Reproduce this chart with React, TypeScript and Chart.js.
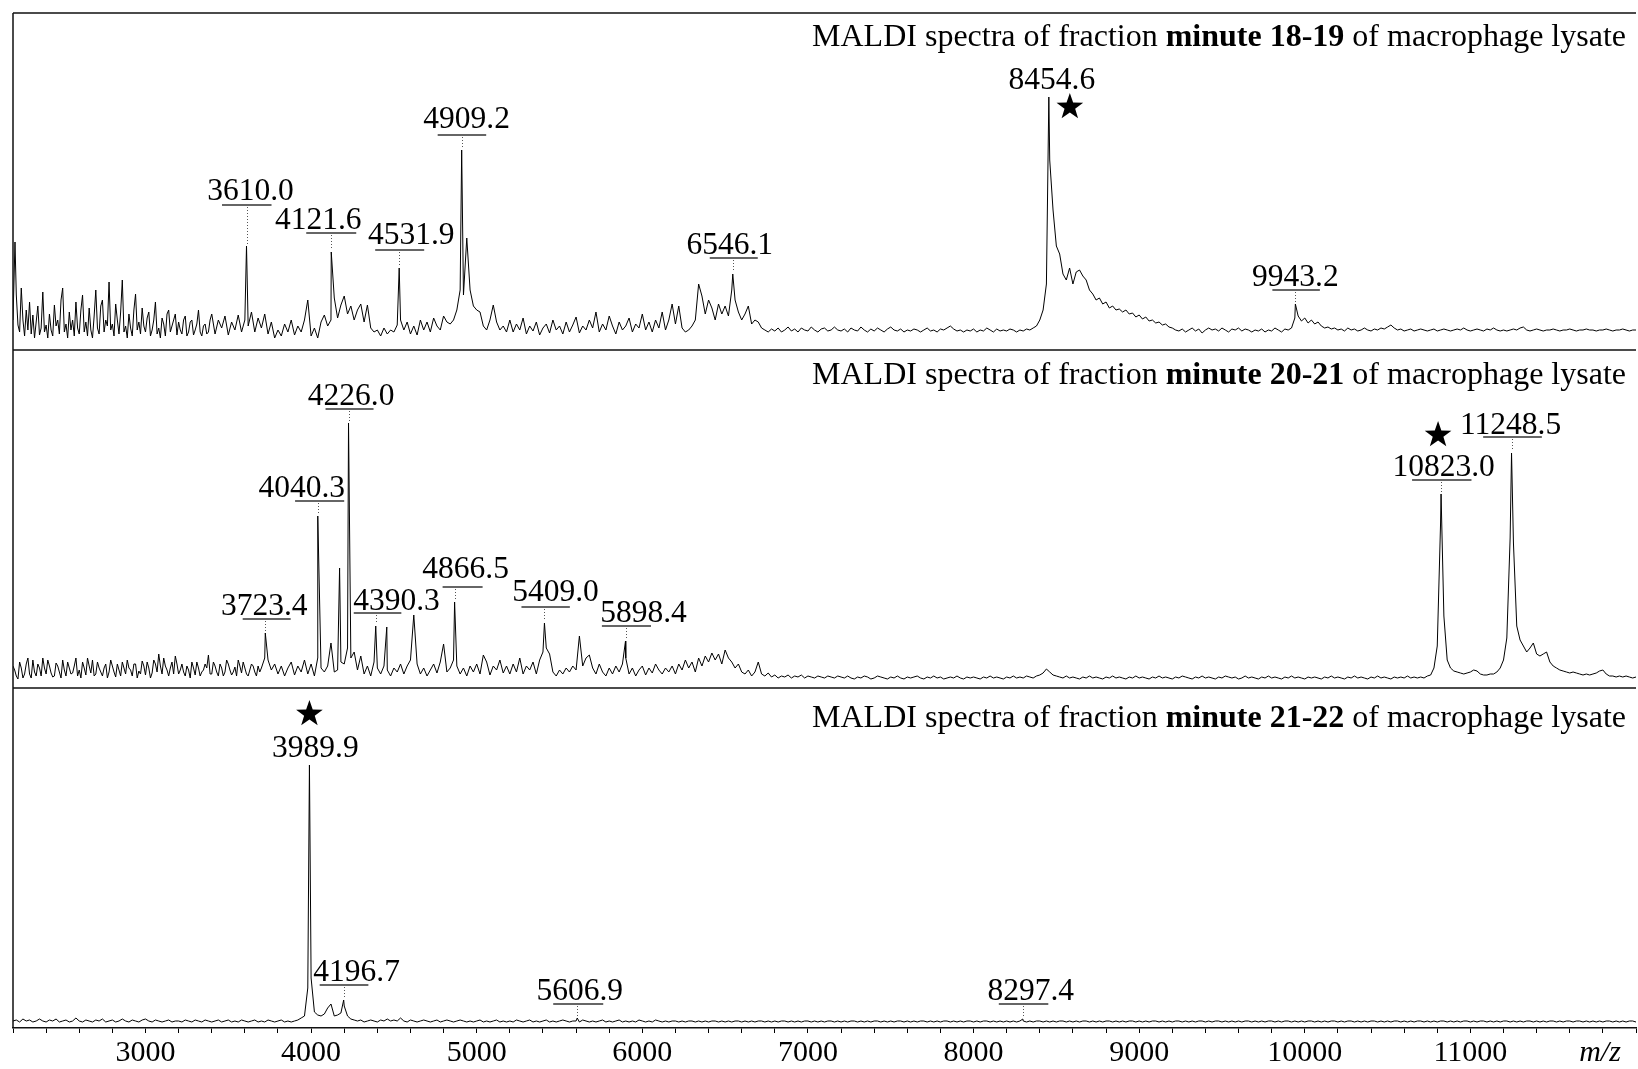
import { useEffect, useRef } from 'react';
import { Chart, registerables } from 'chart.js';

Chart.register(...registerables);

const WIDTH = 1638;
const HEIGHT = 1069;

// ---- m/z axis ----
const MZ_MIN = 2200;
const MZ_MAX = 12000;
const MZ_STEP = 20; // spacing of the sampled intensity arrays
const TICK_STEP = 200;
const TICK_LABEL_EVERY = 1000;

// ---- panel titles (regular, bold, regular) ----
const TITLES: string[][] = [
  ['MALDI spectra of fraction ', 'minute 18-19', ' of macrophage lysate'],
  ['MALDI spectra of fraction ', 'minute 20-21', ' of macrophage lysate'],
  ['MALDI spectra of fraction ', 'minute 21-22', ' of macrophage lysate'],
];

// ---- intensities (a.u.), one value per 20 m/z from 2200 to 12000; each row = 200 m/z ----
const P1_INTENSITY = [
  30, 55, 18, 30, 40, 48, 35, 28, 15, 58, // 2200
  25, 36, 14, 24, 16, 62, 26, 38, 30, 48, // 2400
  16, 55, 28, 42, 12, 60, 16, 50, 30, 68, // 2600
  26, 46, 16, 70, 24, 36, 14, 56, 28, 42, // 2800
  18, 38, 20, 48, 22, 32, 14, 40, 24, 36, // 3000
  28, 16, 34, 18, 30, 20, 40, 14, 26, 18, // 3200
  36, 16, 30, 22, 34, 15, 28, 20, 35, 18, // 3400
  30, 24, 38, 18, 32, 22, 36, 16, 28, 12, // 3600
  20, 14, 26, 18, 30, 15, 24, 18, 30, 50, // 3800
  14, 22, 12, 28, 35, 24, 30, 52, 32, 45, // 4000
  54, 36, 44, 30, 40, 46, 28, 45, 22, 18, // 4200
  20, 14, 22, 16, 20, 18, 25, 30, 20, 28, // 4400
  16, 24, 15, 30, 20, 28, 18, 32, 24, 20, // 4600
  34, 28, 26, 30, 40, 60, 55, 112, 60, 44, // 4800
  40, 38, 24, 20, 30, 45, 28, 20, 24, 18, // 5000
  30, 18, 26, 20, 32, 16, 24, 19, 28, 15, // 5200
  22, 26, 17, 30, 20, 24, 16, 28, 18, 25, // 5400
  33, 17, 24, 20, 30, 22, 38, 18, 26, 20, // 5600
  34, 24, 16, 28, 20, 24, 32, 18, 26, 22, // 5800
  36, 20, 28, 18, 30, 22, 38, 20, 30, 46, // 6000
  26, 44, 22, 18, 20, 24, 30, 66, 54, 36, // 6200
  50, 42, 30, 46, 36, 44, 34, 60, 50, 38, // 6400
  30, 36, 44, 26, 30, 28, 22, 20, 18, 21, // 6600
  19, 22, 18, 20, 23, 19, 21, 18, 22, 20, // 6800
  19, 23, 20, 18, 21, 22, 19, 20, 23, 20, // 7000
  19, 21, 18, 22, 20, 19, 23, 20, 18, 21, // 7200
  19, 22, 20, 18, 21, 23, 20, 19, 21, 18, // 7400
  20, 19, 21, 20, 18, 20, 22, 19, 20, 18, // 7600
  21, 20, 22, 24, 21, 19, 20, 18, 20, 19, // 7800
  21, 18, 20, 19, 22, 20, 18, 21, 19, 20, // 8000
  19, 21, 20, 18, 20, 19, 21, 20, 22, 24, // 8200
  30, 40, 66, 190, 140, 104, 96, 76, 70, 82, // 8400
  66, 78, 80, 74, 70, 60, 56, 50, 52, 46, // 8600
  48, 42, 44, 40, 41, 38, 40, 36, 37, 33, // 8800
  35, 31, 33, 29, 30, 27, 28, 25, 26, 23, // 9000
  22, 20, 19, 21, 18, 20, 22, 19, 21, 17, // 9200
  20, 22, 20, 21, 19, 22, 20, 18, 21, 20, // 9400
  22, 19, 21, 20, 18, 20, 19, 21, 18, 20, // 9600
  19, 22, 20, 18, 21, 20, 22, 32, 34, 29, // 9800
  32, 27, 30, 26, 28, 24, 22, 23, 21, 22, // 10000
  20, 21, 19, 22, 20, 21, 19, 20, 22, 20, // 10200
  19, 21, 20, 22, 21, 23, 25, 22, 20, 21, // 10400
  19, 20, 21, 19, 20, 21, 20, 19, 20, 21, // 10600
  19, 20, 21, 20, 19, 20, 21, 20, 22, 20, // 10800
  19, 20, 21, 20, 19, 21, 20, 22, 20, 19, // 11000
  20, 19, 20, 21, 20, 22, 23, 20, 19, 20, // 11200
  21, 20, 19, 20, 20, 21, 20, 19, 20, 20, // 11400
  21, 20, 19, 20, 20, 21, 20, 20, 19, 20, // 11600
  20, 21, 20, 19, 20, 20, 21, 20, 19, 20, // 11800
  20, // 12000
];
// extra in-between samples of the dense noise at the low-mass end (every 20 m/z from 2230)
const P1_FINE_START = 2230;
const P1_FINE = [
  25, 62, 14, 20, 16, 12, 44, 22, 18, // 2230
  12, 20, 45, 30, 50, 18, 12, 20, 14, 22, // 2410
  40, 18, 14, 20, 34, 22, 44, 18, 24, 20, // 2610
  14, 30, 38, 18, 12, 22, 40, 20, 16, 24, // 2810
  32, 14, 30, 16, 12, 26, 36, 18, 30, 15, // 3010
  20, 30, 14, 28, 15, 26, 18, 24, 16, 30, // 3210
];

const P2_INTENSITY = [
  22, 12, 26, 10, 24, 14, 28, 12, 20, 30, // 2200
  14, 22, 11, 25, 16, 28, 12, 20, 15, 30, // 2400
  18, 26, 13, 22, 28, 14, 20, 12, 24, 16, // 2600
  22, 11, 18, 26, 14, 20, 12, 24, 17, 27, // 2800
  13, 20, 15, 24, 34, 14, 22, 12, 26, 32, // 3000
  14, 24, 12, 18, 26, 13, 20, 16, 24, 33, // 3200
  14, 22, 12, 20, 16, 24, 13, 21, 28, 15, // 3400
  20, 12, 24, 16, 22, 20, 30, 28, 18, 24, // 3600
  14, 22, 12, 20, 26, 13, 22, 16, 28, 14, // 3800
  24, 12, 30, 20, 16, 22, 45, 16, 18, 26, // 4000
  24, 40, 30, 36, 18, 32, 14, 22, 12, 26, // 4200
  20, 14, 22, 18, 12, 20, 16, 24, 14, 22, // 4400
  28, 73, 24, 14, 20, 12, 18, 24, 15, 26, // 4600
  44, 16, 20, 28, 22, 14, 20, 12, 22, 16, // 4800
  24, 14, 33, 26, 13, 22, 18, 28, 15, 22, // 5000
  14, 24, 16, 30, 14, 22, 18, 26, 14, 28, // 5200
  36, 40, 34, 16, 12, 18, 14, 20, 16, 22, // 5400
  18, 52, 22, 30, 33, 20, 14, 24, 16, 12, // 5600
  20, 14, 22, 16, 24, 30, 14, 20, 12, 18, // 5800
  22, 13, 20, 15, 24, 18, 14, 20, 16, 22, // 6000
  14, 24, 18, 28, 20, 26, 16, 30, 22, 32, // 6200
  26, 35, 28, 34, 24, 38, 30, 26, 20, 24, // 6400
  16, 14, 18, 12, 16, 26, 14, 12, 15, 11, // 6600
  13, 10, 12, 11, 13, 10, 12, 11, 13, 10, // 6800
  12, 11, 10, 12, 11, 10, 12, 11, 10, 12, // 7000
  11, 10, 12, 10, 9, 11, 10, 12, 11, 9, // 7200
  10, 12, 11, 10, 9, 11, 10, 12, 10, 9, // 7400
  11, 10, 11, 12, 10, 9, 11, 10, 12, 10, // 7600
  11, 9, 10, 11, 10, 12, 10, 9, 11, 10, // 7800
  11, 10, 9, 11, 10, 12, 10, 11, 10, 9, // 8000
  11, 10, 12, 10, 11, 10, 12, 11, 10, 12, // 8200
  13, 15, 19, 16, 13, 12, 11, 10, 12, 10, // 8400
  11, 10, 9, 11, 10, 12, 10, 11, 10, 9, // 8600
  11, 10, 12, 10, 11, 10, 9, 11, 10, 12, // 8800
  10, 11, 10, 9, 11, 10, 12, 10, 11, 10, // 9000
  9, 11, 10, 12, 11, 10, 9, 11, 10, 12, // 9200
  10, 11, 10, 9, 11, 10, 12, 11, 10, 11, // 9400
  9, 10, 12, 10, 11, 10, 9, 11, 10, 12, // 9600
  10, 11, 10, 9, 11, 10, 12, 10, 11, 10, // 9800
  9, 11, 10, 11, 10, 9, 11, 10, 12, 10, // 10000
  11, 10, 9, 11, 10, 12, 10, 11, 10, 9, // 10200
  11, 10, 12, 10, 11, 10, 9, 11, 10, 11, // 10400
  10, 12, 10, 11, 10, 11, 10, 12, 13, 20, // 10600
  42, 165, 72, 28, 20, 17, 16, 15, 14, 15, // 10800
  16, 18, 17, 14, 13, 13, 14, 14, 16, 20, // 11000
  28, 50, 150, 145, 62, 48, 42, 36, 40, 45, // 11200
  34, 32, 34, 36, 26, 22, 20, 18, 17, 16, // 11400
  15, 16, 15, 14, 13, 14, 13, 14, 15, 17, // 11600
  18, 14, 12, 12, 11, 12, 11, 12, 11, 10, // 11800
  11, // 12000
];
const P2_FINE_START = 2210;
const P2_FINE = [
  18, 9, 20, 14, 30, 10, 16, 24, 12, 20, // 2210
  28, 15, 12, 22, 10, 18, 26, 14, 22, 12, // 2410
  10, 20, 30, 15, 12, 26, 16, 20, 10, 28, // 2610
  16, 24, 12, 20, 28, 18, 24, 10, 14, 22, // 2810
  26, 10, 28, 16, 22, 30, 18, 20, 14, 24, // 3010
  18, 16, 22, 10, 20, 26, 12, 18, 20, 14, // 3210
  26, 16, 24, 12, 28, 18, 16, 12, 22, 26, // 3410
  14, 18, 22, 12, 16, // 3610
];

const P3_INTENSITY = [
  7, 8, 6, 9, 7, 8, 6, 7, 9, 7, // 2200
  6, 8, 7, 9, 6, 7, 8, 6, 7, 10, // 2400
  7, 6, 8, 7, 6, 8, 7, 9, 6, 7, // 2600
  8, 6, 7, 9, 7, 6, 8, 7, 6, 8, // 2800
  9, 7, 6, 8, 7, 6, 7, 8, 6, 7, // 3000
  7, 6, 8, 7, 6, 8, 7, 6, 8, 7, // 3200
  6, 7, 8, 6, 7, 8, 6, 7, 6, 8, // 3400
  7, 6, 7, 8, 6, 7, 6, 8, 7, 6, // 3600
  7, 8, 6, 7, 6, 7, 8, 10, 12, 40, // 3800
  50, 16, 13, 12, 14, 20, 24, 12, 13, 15, // 4000
  22, 12, 9, 8, 7, 8, 6, 7, 8, 7, // 4200
  6, 8, 7, 9, 7, 8, 7, 10, 7, 6, // 4400
  8, 7, 6, 7, 8, 7, 6, 7, 8, 6, // 4600
  7, 8, 7, 6, 7, 8, 7, 6, 7, 6, // 4800
  7, 8, 6, 7, 6, 7, 8, 6, 7, 6, // 5000
  7, 6, 8, 7, 6, 7, 8, 6, 7, 6, // 5200
  7, 8, 6, 7, 6, 7, 8, 7, 6, 7, // 5400
  7, 6, 8, 7, 6, 7, 6, 7, 8, 6, // 5600
  7, 6, 7, 8, 6, 7, 6, 7, 6, 8, // 5800
  7, 6, 7, 6, 8, 7, 6, 7, 6, 7, // 6000
  7, 6, 7, 6, 7, 7, 6, 7, 6, 7, // 6200
  6, 7, 7, 6, 7, 6, 7, 6, 7, 7, // 6400
  6, 7, 6, 7, 6, 7, 7, 6, 7, 6, // 6600
  7, 6, 7, 7, 6, 7, 6, 7, 6, 7, // 6800
  7, 6, 7, 6, 7, 6, 7, 7, 6, 7, // 7000
  6, 7, 6, 7, 7, 6, 7, 6, 7, 6, // 7200
  7, 7, 6, 7, 6, 7, 6, 7, 7, 6, // 7400
  7, 6, 7, 6, 7, 7, 6, 7, 6, 7, // 7600
  6, 7, 7, 6, 7, 6, 7, 6, 7, 7, // 7800
  6, 7, 6, 7, 7, 6, 7, 6, 7, 6, // 8000
  7, 6, 7, 6, 7, 7, 6, 7, 6, 7, // 8200
  7, 6, 7, 6, 7, 6, 7, 7, 6, 7, // 8400
  6, 7, 6, 7, 7, 6, 7, 6, 7, 6, // 8600
  7, 7, 6, 7, 6, 7, 6, 7, 7, 6, // 8800
  7, 6, 7, 6, 7, 7, 6, 7, 6, 7, // 9000
  6, 7, 7, 6, 7, 6, 7, 6, 7, 7, // 9200
  6, 7, 6, 7, 7, 6, 7, 6, 7, 6, // 9400
  7, 6, 7, 7, 6, 7, 6, 7, 6, 7, // 9600
  7, 6, 7, 6, 7, 7, 6, 7, 6, 7, // 9800
  6, 7, 7, 6, 7, 6, 7, 6, 7, 7, // 10000
  6, 7, 6, 7, 7, 6, 7, 6, 7, 6, // 10200
  7, 7, 6, 7, 6, 7, 6, 7, 7, 6, // 10400
  7, 6, 7, 6, 7, 7, 6, 7, 6, 7, // 10600
  6, 7, 7, 6, 7, 6, 7, 6, 7, 7, // 10800
  6, 7, 6, 7, 7, 6, 7, 6, 7, 6, // 11000
  7, 7, 6, 7, 6, 7, 6, 7, 7, 6, // 11200
  7, 6, 7, 6, 7, 7, 6, 7, 6, 7, // 11400
  7, 6, 7, 7, 6, 7, 6, 7, 6, 7, // 11600
  6, 7, 7, 6, 7, 6, 7, 6, 7, 7, // 11800
  6, // 12000
];

// ---- peak apexes [m/z, intensity] ----
const P1_PEAKS: [number, number][] = [
  [2212, 108], [3610.0, 104], [4121.6, 98], [4531.9, 82], [4909.2, 200],
  [6546.1, 76], [8454.6, 253], [9943.2, 46],
];
const P2_PEAKS: [number, number][] = [
  [3723.4, 55], [4040.3, 172], [4172, 120], [4226.0, 265], [4390.3, 62], [4457, 61],
  [4866.5, 86], [5409.0, 65], [5898.4, 47], [10823.0, 194], [11248.5, 235],
];
const P3_PEAKS: [number, number][] = [
  [3989.9, 263], [4196.7, 28], [5606.9, 10], [8297.4, 9],
];

// ---- annotated peaks ----
const P1_LABELS = ['3610.0', '4121.6', '4531.9', '4909.2', '6546.1', '8454.6', '9943.2'];
const P2_LABELS = ['3723.4', '4040.3', '4226.0', '4390.3', '4866.5', '5409.0', '5898.4', '10823.0', '11248.5'];
const P3_LABELS = ['3989.9', '4196.7', '5606.9', '8297.4'];
const P1_STARRED = '8454.6';
const P2_STARRED = '10823.0';
const P3_STARRED = '3989.9';

// ---- annotation layout (kept apart from the data) ----
// dx: text centre offset from peak (px); ty: text baseline level; uy: underline level (intensity units);
// ul: underline extent relative to the peak (px); star: [dx px, level]
type Lay = { dx: number; ty: number; uy?: number; ul?: [number, number]; star?: [number, number] };
const P1_LAYOUT: Lay[] = [
  { dx: 4, ty: 150, uy: 145, ul: [-24.5, 25] },
  { dx: -13, ty: 121, uy: 117, ul: [-25, 25] },
  { dx: 12, ty: 106, uy: 100, ul: [-24, 25] },
  { dx: 5, ty: 222, uy: 215, ul: [-24, 24.5] },
  { dx: -3, ty: 96, uy: 92, ul: [-23, 25] },
  { dx: 3, ty: 261, star: [21, 243] },
  { dx: 0, ty: 64, uy: 60, ul: [-23, 24.5] },
];
const P2_LAYOUT: Lay[] = [
  { dx: -1, ty: 73, uy: 69, ul: [-22.6, 25.4] },
  { dx: -16, ty: 191, uy: 187, ul: [-22.7, 26.4] },
  { dx: 2.6, ty: 283, uy: 279, ul: [-23, 25] },
  { dx: 20.8, ty: 78, uy: 75, ul: [-22, 25.6] },
  { dx: 11, ty: 110, uy: 101, ul: [-12, 28] },
  { dx: 11, ty: 87, uy: 81, ul: [-23, 25.4] },
  { dx: 18, ty: 66, uy: 62, ul: [-23.6, 25.5] },
  { dx: 2.6, ty: 212, uy: 208, ul: [-29, 30.4], star: [-3, 253] },
  { dx: -1, ty: 254, uy: 251, ul: [-28.4, 30.3] },
];
const P3_LAYOUT: Lay[] = [
  { dx: 6, ty: 271, star: [0, 314] },
  { dx: 13, ty: 47, uy: 43, ul: [-24, 24.7] },
  { dx: 2.5, ty: 28, uy: 24, ul: [-24, 26] },
  { dx: 8, ty: 28, uy: 24, ul: [-24, 25.5] },
];

// panel heights in intensity units (= axis max), title baseline offset from panel top
const PANEL_MAX = [337, 338, 340];
const TITLE_OFFSET = [33, 34, 39];

const SERIF = '"Liberation Serif", "Times New Roman", serif';
const LABEL_FONT = `31.5px ${SERIF}`;
const TITLE_FONT = `32px ${SERIF}`;
const TITLE_BOLD = `bold 32px ${SERIF}`;
const TICK_SIZE = 30;

function buildSeries(values: number[], peaks: [number, number][], fine?: number[], fineStart?: number) {
  const pts = values.map((y, i) => ({ x: MZ_MIN + i * MZ_STEP, y }));
  if (fine && fineStart !== undefined) fine.forEach((y, i) => pts.push({ x: fineStart + i * MZ_STEP, y }));
  peaks.forEach(([x, y]) => pts.push({ x, y }));
  pts.sort((a, b) => a.x - b.x);
  return pts;
}

const PANELS = [
  { values: P1_INTENSITY, fine: P1_FINE, fineStart: P1_FINE_START, peaks: P1_PEAKS, labels: P1_LABELS, layout: P1_LAYOUT, star: P1_STARRED },
  { values: P2_INTENSITY, fine: P2_FINE, fineStart: P2_FINE_START, peaks: P2_PEAKS, labels: P2_LABELS, layout: P2_LAYOUT, star: P2_STARRED },
  { values: P3_INTENSITY, fine: undefined, fineStart: undefined, peaks: P3_PEAKS, labels: P3_LABELS, layout: P3_LAYOUT, star: P3_STARRED },
];

function drawStar(ctx: CanvasRenderingContext2D, cx: number, cy: number, R: number) {
  const r = R * 0.4;
  ctx.beginPath();
  for (let k = 0; k < 10; k++) {
    const rad = k % 2 === 0 ? R : r;
    const a = -Math.PI / 2 + (k * Math.PI) / 5;
    const px = cx + rad * Math.cos(a);
    const py = cy + rad * Math.sin(a);
    if (k === 0) ctx.moveTo(px, py);
    else ctx.lineTo(px, py);
  }
  ctx.closePath();
  ctx.fill();
}

const annotatePlugin = {
  id: 'annotate',
  afterDraw(chart: any) {
    const ctx: CanvasRenderingContext2D = chart.ctx;
    const xs = chart.scales.x;
    const area = chart.chartArea;
    ctx.save();

    // frame
    ctx.strokeStyle = '#111';
    ctx.lineWidth = 1.5;
    ctx.beginPath();
    ctx.moveTo(area.left, area.top);
    ctx.lineTo(area.right, area.top);
    ctx.moveTo(area.left, area.top);
    ctx.lineTo(area.left, area.bottom);
    ['y1', 'y2'].forEach((id) => {
      const b = chart.scales[id].bottom;
      ctx.moveTo(area.left, b);
      ctx.lineTo(area.right, b);
    });
    ctx.stroke();

    PANELS.forEach((p, i) => {
      const ys = chart.scales[`y${i + 1}`];
      // title
      const parts = TITLES[i];
      const fonts = [TITLE_FONT, TITLE_BOLD, TITLE_FONT];
      const widths = parts.map((t, k) => {
        ctx.font = fonts[k];
        return ctx.measureText(t).width;
      });
      let tx = area.right - 10 - widths.reduce((a, b) => a + b, 0);
      const tBase = ys.top + TITLE_OFFSET[i];
      ctx.fillStyle = '#000';
      ctx.textAlign = 'left';
      ctx.textBaseline = 'alphabetic';
      parts.forEach((t, k) => {
        ctx.font = fonts[k];
        ctx.fillText(t, tx, tBase);
        tx += widths[k];
      });

      // peak labels
      p.labels.forEach((text, k) => {
        const lay = p.layout[k];
        const mz = parseFloat(text);
        const peak = p.peaks.reduce((best, cur) =>
          Math.abs(cur[0] - mz) < Math.abs(best[0] - mz) ? cur : best);
        const px = xs.getPixelForValue(mz);
        const peakY = ys.getPixelForValue(peak[1]);
        ctx.font = LABEL_FONT;
        ctx.fillStyle = '#000';
        ctx.textAlign = 'center';
        ctx.textBaseline = 'alphabetic';
        ctx.fillText(text, px + lay.dx, ys.getPixelForValue(lay.ty));
        if (lay.ul && lay.uy !== undefined) {
          const uy = ys.getPixelForValue(lay.uy);
          ctx.strokeStyle = '#333';
          ctx.lineWidth = 1.5;
          ctx.setLineDash([]);
          ctx.beginPath();
          ctx.moveTo(px + lay.ul[0], uy);
          ctx.lineTo(px + lay.ul[1], uy);
          ctx.stroke();
          ctx.strokeStyle = '#555';
          ctx.lineWidth = 1;
          ctx.setLineDash([1, 2]);
          ctx.beginPath();
          ctx.moveTo(Math.round(px) + 0.5, uy + 2);
          ctx.lineTo(Math.round(px) + 0.5, peakY - 2);
          ctx.stroke();
          ctx.setLineDash([]);
        }
        if (lay.star && text === p.star) {
          ctx.fillStyle = '#000';
          drawStar(ctx, px + lay.star[0], ys.getPixelForValue(lay.star[1]), 14);
        }
      });
    });

    // m/z axis label
    ctx.font = `italic ${TICK_SIZE}px ${SERIF}`;
    ctx.fillStyle = '#000';
    ctx.textAlign = 'center';
    ctx.textBaseline = 'middle';
    ctx.fillText('m/z', area.right - 36, xs.top + 5 + 2 + TICK_SIZE * 0.6);
    ctx.restore();
  },
};

export default function App() {
  const ref = useRef<HTMLCanvasElement | null>(null);
  useEffect(() => {
    const canvas = ref.current;
    if (!canvas) return;
    const datasets = PANELS.map((p, i) => ({
      data: buildSeries(p.values, p.peaks, p.fine, p.fineStart),
      yAxisID: `y${i + 1}`,
      borderColor: '#000',
      borderWidth: 1,
      pointRadius: 0,
      pointHoverRadius: 0,
      fill: false,
      tension: 0,
    }));
    const yAxis = (i: number) => ({
      type: 'linear',
      display: false,
      min: 0,
      max: PANEL_MAX[i],
      position: 'left',
      stack: 'spectra',
      stackWeight: PANEL_MAX[i],
      weight: 3 - i,
    });
    const chart = new Chart(canvas, {
      type: 'line',
      data: { datasets },
      options: {
        animation: false,
        responsive: false,
        devicePixelRatio: 1,
        events: [],
        layout: { padding: { left: 13, top: 13, right: 0, bottom: 0 } },
        plugins: { legend: { display: false }, tooltip: { enabled: false } },
        scales: {
          x: {
            type: 'linear',
            position: 'bottom',
            min: MZ_MIN,
            max: MZ_MAX,
            afterFit: (s: any) => {
              s.height = 41;
            },
            ticks: {
              stepSize: TICK_STEP,
              autoSkip: false,
              maxRotation: 0,
              minRotation: 0,
              padding: 2,
              color: '#000',
              font: { family: SERIF, size: TICK_SIZE },
              callback: (v: any) => {
                const n = Number(v);
                return n % TICK_LABEL_EVERY === 0 && n > MZ_MIN && n < MZ_MAX ? String(n) : '';
              },
            },
            grid: {
              display: true,
              drawOnChartArea: false,
              drawTicks: true,
              tickLength: 5,
              color: '#000',
              lineWidth: 1,
            },
            border: { display: true, color: '#111', width: 1.5 },
          },
          y1: yAxis(0),
          y2: yAxis(1),
          y3: yAxis(2),
        },
      } as any,
      plugins: [annotatePlugin],
    } as any);
    return () => chart.destroy();
  }, []);
  return (
    <div style={{ position: 'absolute', left: 0, top: 0, width: WIDTH, height: HEIGHT, background: '#fff' }}>
      <canvas ref={ref} width={WIDTH} height={HEIGHT} style={{ display: 'block', width: WIDTH, height: HEIGHT }} />
    </div>
  );
}
